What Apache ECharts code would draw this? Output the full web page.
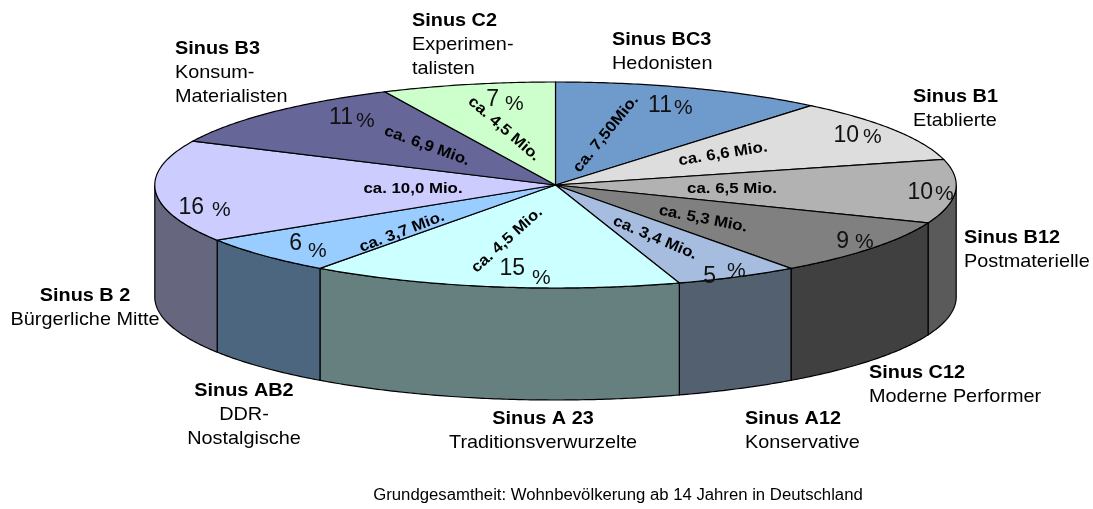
<!DOCTYPE html>
<html><head><meta charset="utf-8">
<style>html,body{margin:0;padding:0;background:#fff}#c{width:1093px;height:509px}</style>
<script src="https://cdn.jsdelivr.net/npm/echarts@6/dist/echarts.min.js"></script>
</head><body><div id="c"></div>
<script>
const segmentCodes = ['Sinus BC3','Sinus B1','Sinus B12','Sinus C12','Sinus A12','Sinus A 23','Sinus AB2','Sinus B 2','Sinus B3','Sinus C2'];
const segmentNames = ['Hedonisten','Etablierte','Postmaterielle','Moderne Performer','Konservative','Traditionsverwurzelte','DDR-\nNostalgische','Bürgerliche Mitte','Konsum-\nMaterialisten','Experimen-\ntalisten'];
const shares = [11,10,10,9,5,15,6,16,11,7];
const millionLabels = ['ca. 7,50Mio.','ca. 6,6 Mio.','ca. 6,5 Mio.','ca. 5,3 Mio.','ca. 3,4 Mio.','ca. 4,5 Mio.','ca. 3,7 Mio.','ca. 10,0 Mio.','ca. 6,9 Mio.','ca. 4,5 Mio.'];
const footnote = 'Grundgesamtheit: Wohnbevölkerung ab 14 Jahren in Deutschland';

const topColors = ['#6F9ACC','#DDDDDD','#B2B2B2','#808080','#A6BDE0','#CCFFFF','#99CCFF','#CCCCFF','#666699','#CCFFCC'];
const sideColors = ['#385066','#6F6F6F','#5A5A5A','#404040','#53606F','#667F7F','#4D6680','#66667F','#333350','#667F66'];

const PIE = {cx:555.5, cy:185, rx:400.7, ry:103, depth:112};
// x, y, align per outer label block
const outerLayout = [[612,40,'left'],[913,97,'left'],[964,238,'left'],[869,373,'left'],[745,419,'left'],[543,419,'center'],[244,391,'center'],[85,296,'center'],[175,49,'left'],[412,21,'left']];
// digit right edge x, digit y, percent-sign left edge x, percent-sign y
const shareLayout = [[672,106,674,108],[859,136,863,137],[933,193,935,194],[849,242,855,242],[716,277,727,271],[525,269,532,278],[302,244,308,251],[204,208,212,210],[353,118,356,121],[499,100,505,104]];
// x, y, rotation in degrees
const millionLayout = [[606,134,51],[723,154,9],[732,189,0],[703,219,-11],[655,238,-23],[507,240,42],[402,232,21],[413,189,0],[427,146,-20],[504,129,-41]];

const total = shares.reduce((a,b)=>a+b,0);
function pt(a,dy){return [PIE.cx+PIE.rx*Math.sin(a), PIE.cy-PIE.ry*Math.cos(a)+(dy||0)];}
function span(i){
  let before=0; for(let k=0;k<i;k++) before+=shares[k];
  return [before/total*2*Math.PI,(before+shares[i])/total*2*Math.PI];
}
function arc(a0,a1,dy){
  const n=Math.max(2,Math.ceil(Math.abs(a1-a0)/0.01)),out=[];
  for(let k=0;k<=n;k++) out.push(pt(a0+(a1-a0)*k/n,dy));
  return out;
}
const font = '"Liberation Sans", Arial, sans-serif';
const chart = echarts.init(document.getElementById('c'),null,{renderer:'canvas'});

const graphics = [];
segmentCodes.forEach((code,i)=>{
  const [x,y,align]=outerLayout[i];
  graphics.push({type:'text',x:x,y:y,scaleX:1.045,silent:true,style:{text:code,font:'bold 19px '+font,fill:'#000',textAlign:align,textVerticalAlign:'middle'}});
  segmentNames[i].split('\n').forEach((ln,k)=>{
    graphics.push({type:'text',x:x,y:y+24*(k+1),scaleX:1.045,silent:true,style:{text:ln,font:'19px '+font,fill:'#000',textAlign:align,textVerticalAlign:'middle'}});
  });
});
graphics.push({type:'text',x:618,y:496,scaleX:1.045,silent:true,style:{text:footnote,font:'16px '+font,fill:'#000',textAlign:'center',textVerticalAlign:'middle'}});

chart.setOption({
  animation:false,
  backgroundColor:'#fff',
  graphic:graphics,
  series:[
    {type:'custom',name:'sides',coordinateSystem:'none',silent:true,clip:false,data:shares.map(v=>[v]),z:1,
     renderItem(params,api){
       const [a0,a1]=span(params.dataIndex);
       const s=Math.max(a0,Math.PI/2),e=Math.min(a1,Math.PI*1.5);
       if(e<=s) return {type:'group',children:[]};
       const pts=arc(s,e,0).concat(arc(e,s,PIE.depth));
       return {type:'polygon',shape:{points:pts},style:{fill:sideColors[params.dataIndex],stroke:'#000',lineWidth:1.2}};
     }},
    {type:'custom',name:'tops',coordinateSystem:'none',silent:true,clip:false,data:shares.map(v=>[v]),z:2,
     renderItem(params,api){
       const [a0,a1]=span(params.dataIndex);
       const pts=[[PIE.cx,PIE.cy]].concat(arc(a0,a1,0));
       return {type:'polygon',shape:{points:pts},style:{fill:topColors[params.dataIndex],stroke:'#000',lineWidth:1.2}};
     }},
    {type:'custom',name:'labels',coordinateSystem:'none',silent:true,clip:false,data:shares.map(v=>[v]),z:3,
     renderItem(params,api){
       const i=params.dataIndex,p=shareLayout[i],m=millionLayout[i];
       return {type:'group',children:[
         {type:'text',x:p[0],y:p[1],style:{text:String(api.value(0)),font:'23px '+font,fill:'#111',textAlign:'right',textVerticalAlign:'middle'}},
         {type:'text',x:p[2],y:p[3],style:{text:'%',font:'21px '+font,fill:'#111',textAlign:'left',textVerticalAlign:'middle'}},
         {type:'text',x:m[0],y:m[1],rotation:m[2]*Math.PI/180,scaleX:1.1,style:{text:millionLabels[i],font:'bold 15.3px '+font,fill:'#000',textAlign:'center',textVerticalAlign:'middle'}}
       ]};
     }}
  ]
});
</script></body></html>
